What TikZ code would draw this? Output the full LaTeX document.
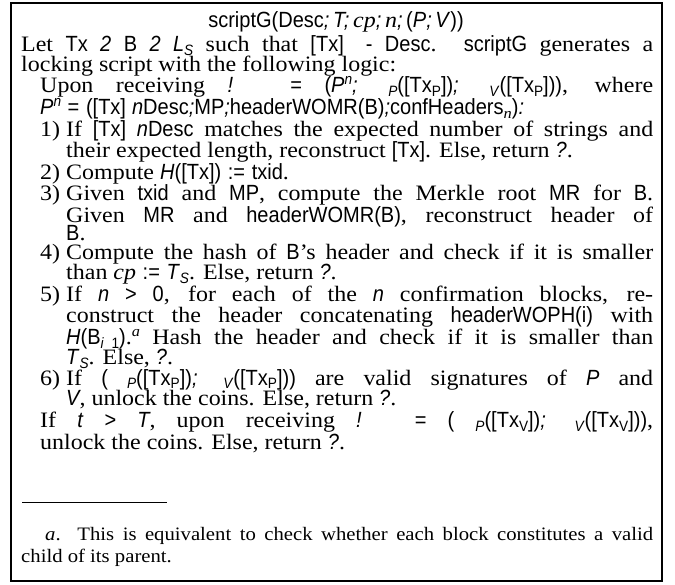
\documentclass[tikz,border=0pt]{standalone}
\usepackage{fontspec}
\setmainfont{Liberation Serif}[FakeStretch=1.09]
\setsansfont{Liberation Sans}[FakeStretch=0.91]
\newcommand\tsf[1]{\textsf{#1}}
\newcommand\tsi[1]{\textsf{\itshape #1}}
\newcommand\subx[1]{\raisebox{-0.35ex}{\fontsize{15}{15}\selectfont #1}}
\newcommand\supx[1]{\raisebox{0.85ex}{\fontsize{15}{15}\selectfont #1}}
\newcommand\jline[2]{\makebox[#1][s]{#2}}
\newcommand\rel[1]{\hspace{0.3em}#1\hspace{0.3em}}
\tikzset{
  txt/.style={anchor=base west,inner sep=0pt,font=\fontsize{22}{21}\selectfont},
  fn/.style={anchor=base west,inner sep=0pt,font=\fontsize{19}{20}\selectfont},
  frame/.style={draw=black,line width=1.1pt},
}
\begin{document}
\begin{tikzpicture}[x=1pt,y=-1pt]
\useasboundingbox (0,0) rectangle (675,585);
\draw[frame] (11,3) rectangle (662,581);
\node[txt,anchor=base] (title) at (336,28) {\tsf{scriptG(Desc}\tsi{;\,T;\,}\textit{cp}\tsi{;\,}\textit{n}\tsi{;\,}\tsf{(}\tsi{P;\,V}\tsf{))}};
\node[txt] (l1) at (21,52) {\jline{632pt}{Let \tsf{Tx} \tsi{2} \tsf{B} \tsi{2} \tsi{L}\subx{\tsi{S}} such that \tsf{[Tx]}\quad\tsf{-} \tsf{Desc}. \tsf{scriptG} generates a}};
\node[txt] (l2) at (21,72) {locking script with the following logic:};
\node[txt] (l3) at (40,93) {\jline{613pt}{Upon receiving \tsi{!} \tsf{=} \tsf{(}\tsi{P}\supx{\tsi{n}}\tsi{;} \subx{\tsi{P}}\tsf{([Tx}\subx{\tsf{P}}\tsf{])}\tsi{;} \subx{\tsi{V}}\tsf{([Tx}\subx{\tsf{P}}\tsf{]))}, where}};
\node[txt] (l4) at (40,115) {\tsi{P}\supx{\tsi{n}}\rel{\tsf{=}}\tsf{([Tx]} \tsi{n}\tsf{Desc}\tsi{;}\tsf{MP}\tsi{;}\tsf{headerWOMR(B)}\tsi{;}\tsf{confHeaders}\subx{\textit{n}}\tsf{)}\tsi{:}};
% item 1
\node[txt] (n1) at (40,137) {1)};
\node[txt] (i1a) at (66,137) {\jline{587pt}{If \tsf{[Tx]} \tsi{n}\tsf{Desc} matches the expected number of strings and}};
\node[txt] (i1b) at (66,158) {their expected length, reconstruct \tsf{[Tx]}. Else, return \tsi{?}.};
% item 2
\node[txt] (n2) at (40,180) {2)};
\node[txt] (i2a) at (66,180) {Compute \tsi{H}\tsf{([Tx])}\rel{\tsf{:=}}\tsf{txid}.};
% item 3
\node[txt] (n3) at (40,201) {3)};
\node[txt] (i3a) at (66,201) {\jline{587pt}{Given \tsf{txid} and \tsf{MP}, compute the Merkle root \tsf{MR} for \tsf{B}.}};
\node[txt] (i3b) at (66,223) {\jline{587pt}{Given \tsf{MR} and \tsf{headerWOMR(B)}, reconstruct header of}};
\node[txt] (i3c) at (66,241) {\tsf{B}.};
% item 4
\node[txt] (n4) at (40,260) {4)};
\node[txt] (i4a) at (66,260) {\jline{587pt}{Compute the hash of \tsf{B}'s header and check if it is smaller}};
\node[txt] (i4b) at (66,280) {than \textit{cp}\rel{\tsf{:=}}\tsi{T}\subx{\tsi{S}}. Else, return \tsi{?}.};
% item 5
\node[txt] (n5) at (40,302) {5)};
\node[txt] (i5a) at (66,302) {\jline{587pt}{If \tsi{n} \tsf{>} \tsf{0}, for each of the \tsi{n} confirmation blocks, re-}};
\node[txt] (i5b) at (66,323) {\jline{587pt}{construct the header concatenating \tsf{headerWOPH(i)} with}};
\node[txt] (i5c) at (66,345) {\jline{587pt}{\tsi{H}\tsf{(B}\subx{\tsi{i}\enspace\tsf{1}}\tsf{)}.\supx{\textit{a}} Hash the header and check if it is smaller than}};
\node[txt] (i5d) at (66,365) {\tsi{T}\subx{\tsi{S}}. Else, \tsi{?}.};
% item 6
\node[txt] (n6) at (40,385) {6)};
\node[txt] (i6a) at (66,385) {\jline{587pt}{If \tsf{(} \subx{\tsi{P}}\tsf{([Tx}\subx{\tsf{P}}\tsf{])}\tsi{;} \subx{\tsi{V}}\tsf{([Tx}\subx{\tsf{P}}\tsf{]))} are valid signatures of \tsi{P} and}};
\node[txt] (i6b) at (66,406) {\tsi{V}, unlock the coins. Else, return \tsi{?}.};
% timeout
\node[txt] (t1) at (40,428) {\jline{613pt}{If \tsi{t} \tsf{>} \tsi{T}, upon receiving \tsi{!} \tsf{=} \tsf{(} \subx{\tsi{P}}\tsf{([Tx}\subx{\tsf{V}}\tsf{])}\tsi{;} \subx{\tsi{V}}\tsf{([Tx}\subx{\tsf{V}}\tsf{]))},}};
\node[txt] (t2) at (40,449) {unlock the coins. Else, return \tsi{?}.};
% footnote
\coordinate (rl) at (22,502);
\coordinate (rr) at (167,502);
\draw[line width=0.8pt] (rl) -- (rr);
\node[fn] (f1) at (45,540) {\jline{608pt}{\textit{a}. This is equivalent to check whether each block constitutes a valid}};
\node[fn] (f2) at (21,562) {child of its parent.};
\end{tikzpicture}
\end{document}
